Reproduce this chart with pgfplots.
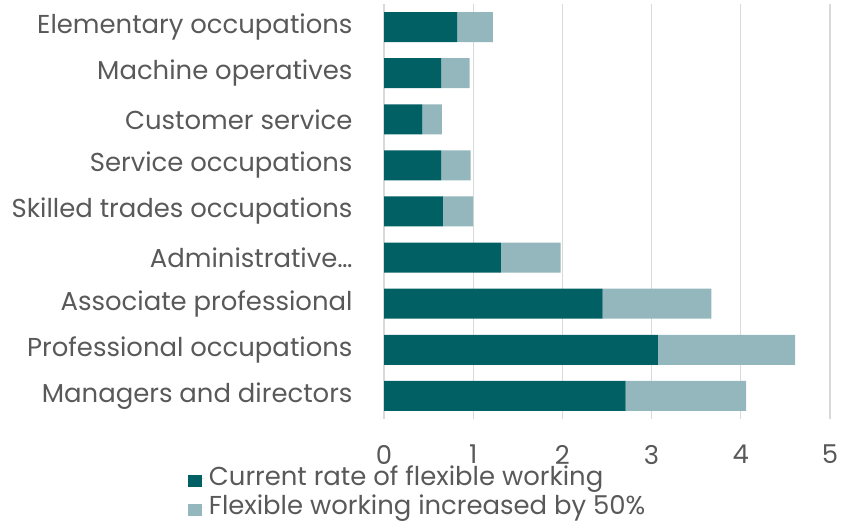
\documentclass[border=0pt]{standalone}
\usepackage{pgfplots}
\pgfplotsset{compat=1.18}
\usepackage{fontspec}
\setmainfont{Poppins}
\definecolor{dark}{RGB}{0,96,100}
\definecolor{light}{RGB}{147,183,188}
\definecolor{txt}{RGB}{89,89,89}
\definecolor{gridc}{RGB}{217,217,217}
\begin{document}
\begin{tikzpicture}[x=1bp,y=1bp]
\useasboundingbox (0,0) rectangle (862,521);
\begin{axis}[
  at={(384bp,102bp)}, anchor=south west,
  scale only axis, width=446bp, height=415bp,
  xbar stacked, bar width=30bp,
  xmin=0, xmax=5, ymin=-0.5, ymax=8.5,
  xtick={0,1,2,3,4,5},
  ytick={0,1,2,3,4,5,6,7,8},
  yticklabels={Managers and directors, Professional occupations, Associate professional, Administrative…, Skilled trades occupations, Service occupations, Customer service, Machine operatives, Elementary occupations},
  axis line style={draw=none},
  major tick length=0pt,
  xmajorgrids, grid style={gridc, line width=1.3bp},
  tick label style={font=\fontsize{26}{30}\selectfont, text=txt},
  /pgf/number format/assume math mode=true,
  yticklabel style={anchor=east, xshift=-28bp},
  xticklabel style={yshift=-26bp, inner ysep=0pt},
  legend style={at={(rel axis cs:-0.44,-0.1072)}, anchor=north west, draw=none, fill=none,
     font=\fontsize{26}{30}\selectfont, text=txt, row sep=0bp, inner sep=0pt,
     nodes={inner xsep=4bp, inner ysep=1.5bp, text height=20bp, text depth=6bp}},
  legend cell align=left,
  legend image code/.code={\path (0bp,0bp) -- (17bp,0bp); \fill[#1] (0bp,-8.5bp) rectangle (14bp,3.5bp);},
]
\addplot[fill=dark, draw=none] coordinates {(2.71,0) (3.07,1) (2.45,2) (1.31,3) (0.66,4) (0.64,5) (0.43,6) (0.64,7) (0.82,8)};
\addplot[fill=light, draw=none] coordinates {(1.35,0) (1.54,1) (1.22,2) (0.67,3) (0.34,4) (0.33,5) (0.22,6) (0.32,7) (0.40,8)};
\legend{Current rate of flexible working, Flexible working increased by 50\%}
\end{axis}
\end{tikzpicture}
\end{document}
